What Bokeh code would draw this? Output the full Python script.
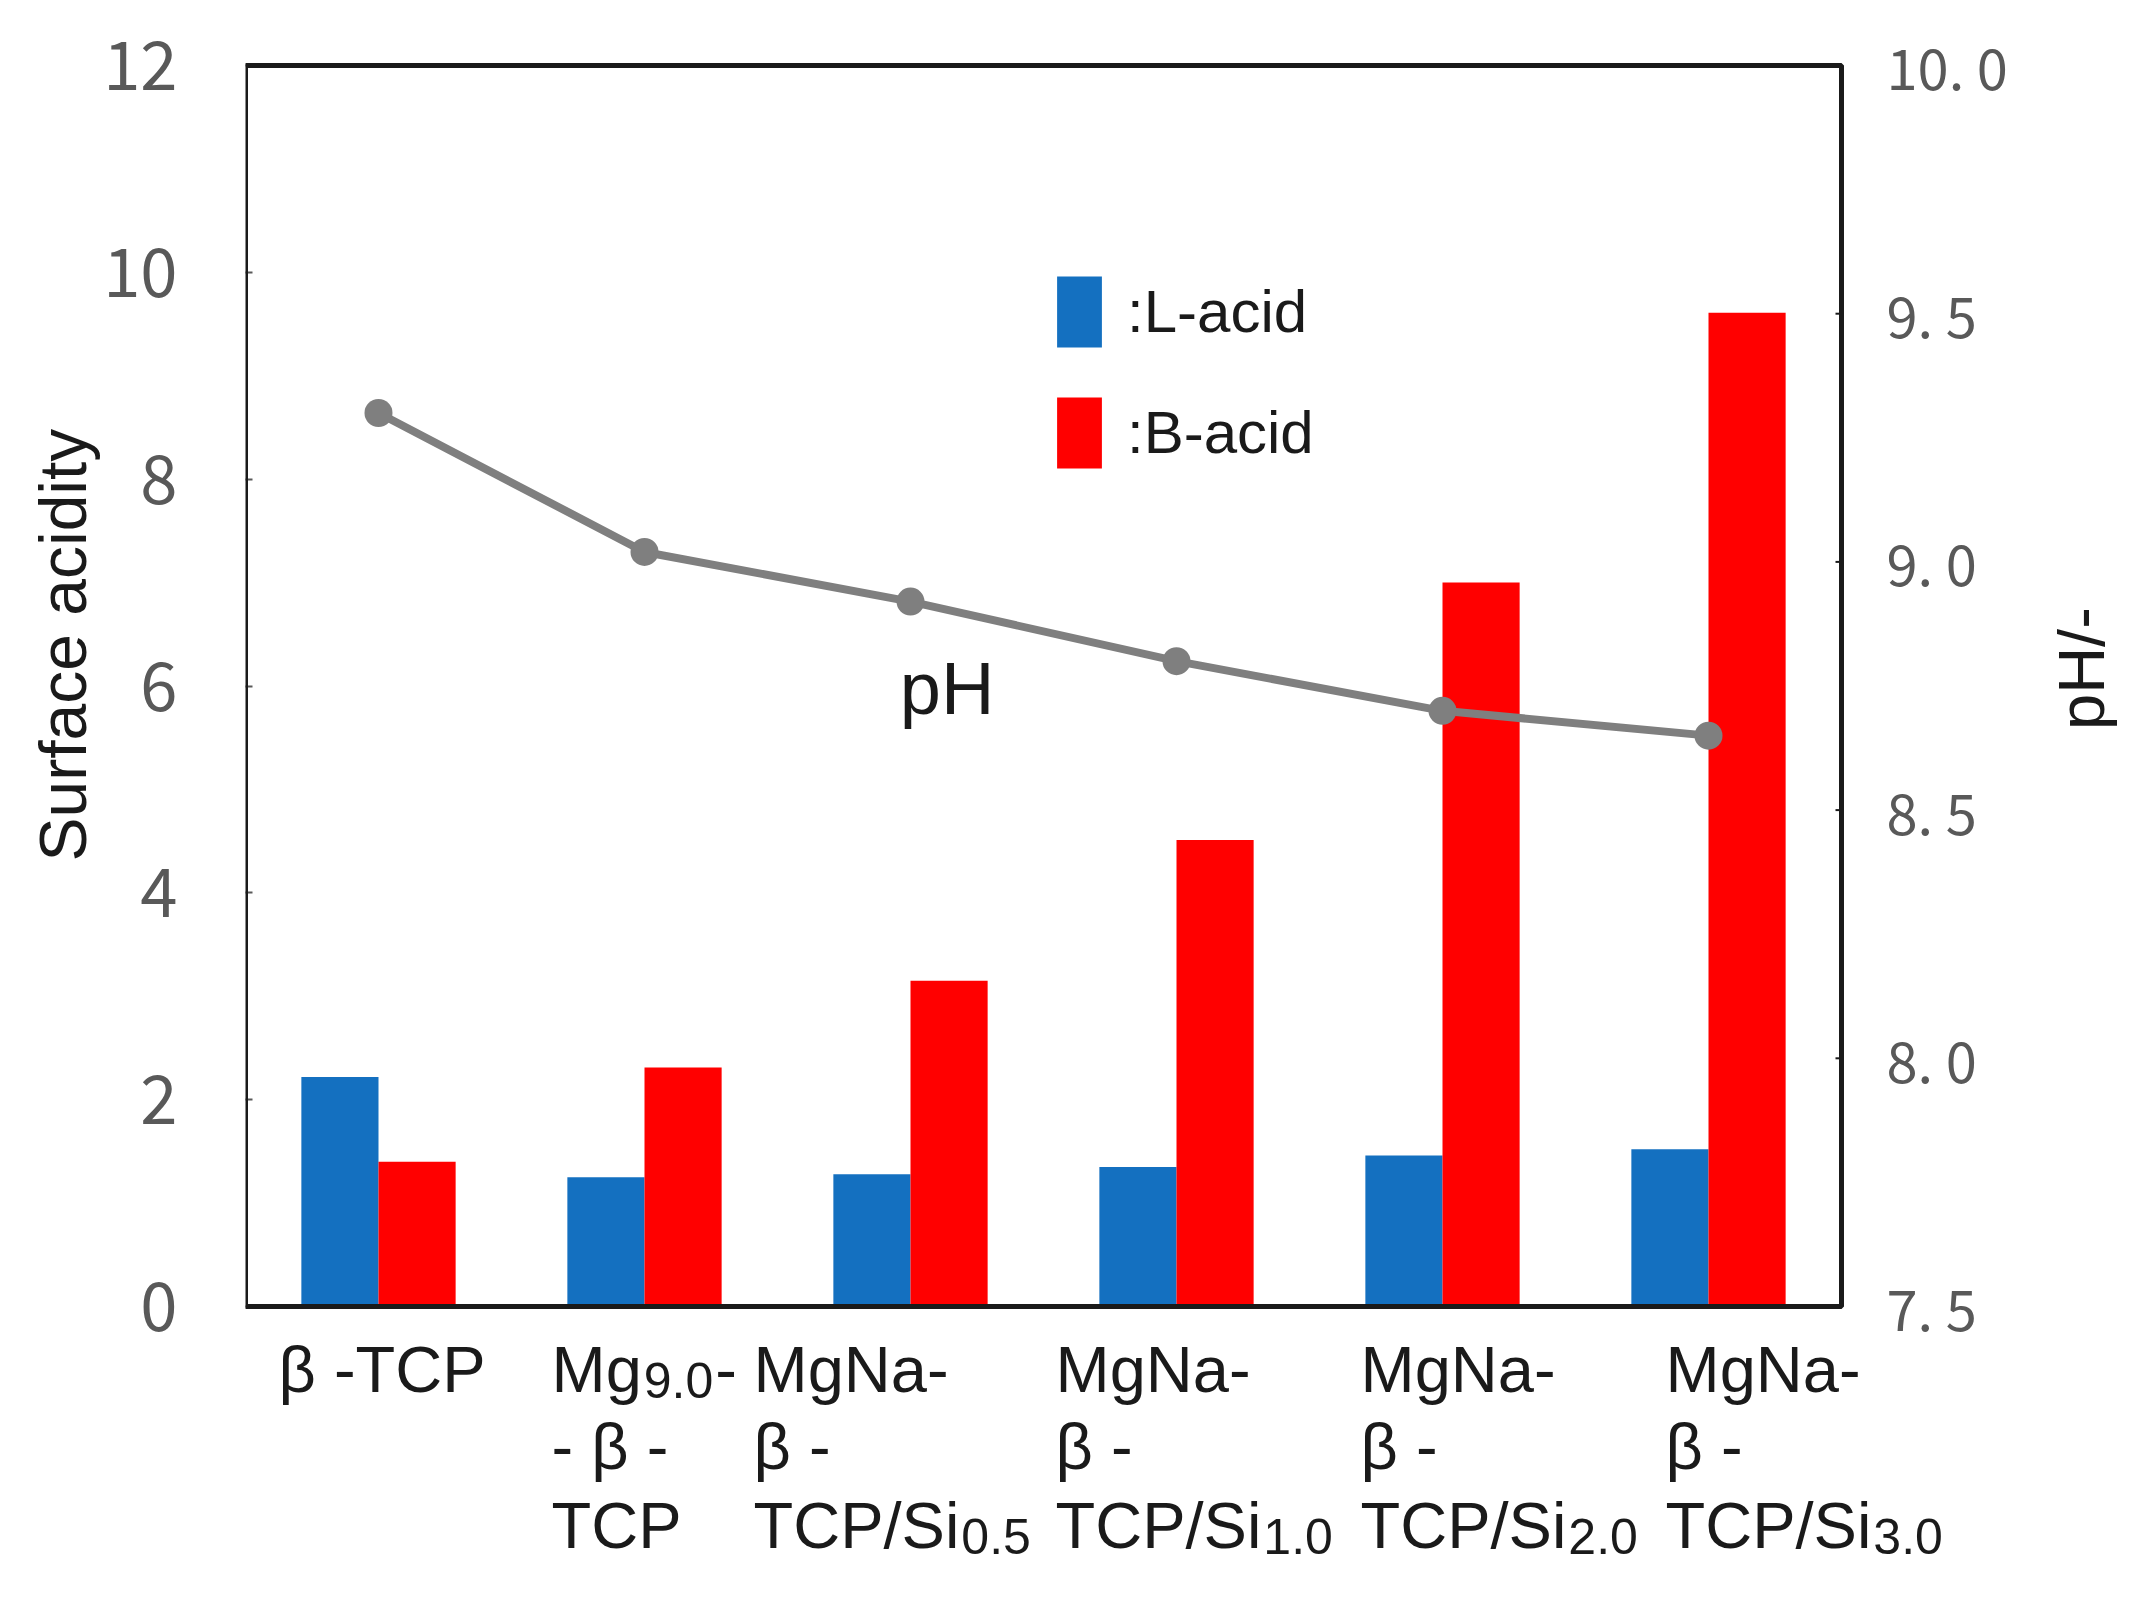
import math

from bokeh.core.properties import value
from bokeh.embed import file_html
from bokeh.models import (BoxAnnotation, ColumnDataSource, FixedTicker, Label,
                          Legend, LegendItem, Range1d, Title)
from bokeh.plotting import figure
from bokeh.resources import INLINE

# values
samples = ["β-TCP", "Mg9.0-β-TCP", "MgNa-β-TCP/Si0.5",
           "MgNa-β-TCP/Si1.0", "MgNa-β-TCP/Si2.0", "MgNa-β-TCP/Si3.0"]
l_acid = [2.22, 1.25, 1.28, 1.35, 1.46, 1.52]
b_acid = [1.40, 2.31, 3.15, 4.51, 7.00, 9.61]
ph = [9.30, 9.02, 8.92, 8.80, 8.70, 8.65]

left_ticks = [0, 2, 4, 6, 8, 10, 12]
right_ticks = [7.5, 8.0, 8.5, 9.0, 9.5, 10.0]
right_tick_labels = ["7. 5", "8. 0", "8. 5", "9. 0", "9. 5", "10. 0"]

# category labels, lines per sample: (text, subscript, tail)
label_lines = [
    [("β -TCP", "", "")],
    [("Mg", "9.0", "-"), ("- β -", "", ""), ("TCP", "", "")],
    [("MgNa-", "", ""), ("β -", "", ""), ("TCP/Si", "0.5", "")],
    [("MgNa-", "", ""), ("β -", "", ""), ("TCP/Si", "1.0", "")],
    [("MgNa-", "", ""), ("β -", "", ""), ("TCP/Si", "2.0", "")],
    [("MgNa-", "", ""), ("β -", "", ""), ("TCP/Si", "3.0", "")],
]

# layout in pixels
W, H = 2123, 1590
LEFT = 245
BOX_TOP = 65                  # canvas y of the value 12 line
BOX_W = 1596                  # width of the boxed plot area
BOX_BOTTOM = 1306             # canvas y of the value 0 line
label_dx = [-100, -93, -157, -121, -82, -43]   # left edge vs. group centre
line_y = [-63, -140, -219]                     # baselines below the box
FONT = "Liberation Sans"
TICKFONT = "Noto Sans CJK JP"
MAIN_PX, SUB_PX = 65, 50
em = {"M": 0.833, "g": 0.556, "T": 0.611, "C": 0.722, "P": 0.667,
      "/": 0.278, "S": 0.667, "i": 0.222, ".": 0.278}

n = len(samples)
px_x = BOX_W / n                               # px per category
px_y = (BOX_BOTTOM - BOX_TOP) / 12             # px per acidity unit
px_ph = (BOX_BOTTOM - BOX_TOP) / 2.5           # px per pH unit
below = H - BOX_BOTTOM

x = [i + 0.5 for i in range(n)]
bar_w = 0.29
src = ColumnDataSource(dict(
    x_l=[v - bar_w / 2 for v in x],
    x_b=[v + bar_w / 2 for v in x],
    x=x, l_acid=l_acid, b_acid=b_acid, ph=ph))

# the frame also holds the category labels and the pH scale around the box
p = figure(width=W, height=H, output_backend="svg",
           toolbar_location=None, x_axis_type=None,
           x_range=Range1d(0, (W - LEFT) / px_x),
           y_range=Range1d(-below / px_y, 12 + BOX_TOP / px_y),
           min_border_left=LEFT, min_border_right=0,
           min_border_top=0, min_border_bottom=0)
p.extra_y_ranges = {"ph": Range1d(7.5 - below / px_ph, 10 + BOX_TOP / px_ph)}
p.grid.visible = False
p.outline_line_color = None

p.add_layout(BoxAnnotation(left=0, right=n, bottom=0, top=12,
                           fill_alpha=0, line_color="#1a1a1a",
                           line_alpha=1, line_width=5))

r_l = p.vbar(x="x_l", top="l_acid", width=bar_w, source=src,
             fill_color="#1470c0", line_color=None)
r_b = p.vbar(x="x_b", top="b_acid", width=bar_w, source=src,
             fill_color="#ff0000", line_color=None)
p.line(x="x", y="ph", source=src, y_range_name="ph",
       line_color="#7f7f7f", line_width=8)
p.scatter(x="x", y="ph", source=src, y_range_name="ph", size=28,
          fill_color="#7f7f7f", line_color=None)

# left axis
ya = p.yaxis[0]
ya.ticker = FixedTicker(ticks=left_ticks)
ya.axis_line_color = None
ya.major_tick_in = 7
ya.major_tick_out = 0
ya.minor_tick_line_color = None
ya.major_tick_line_color = "#595959"
ya.major_tick_line_width = 2
ya.major_label_text_font = TICKFONT
ya.major_label_text_font_size = "67px"
ya.major_label_text_color = "#595959"
ya.major_label_standoff = 68

p.add_layout(Title(text="Surface acidity", align="left", offset=445 + below,
                   vertical_align="middle", text_font=FONT,
                   text_font_style="normal", text_font_size="66px",
                   text_color="#1a1a1a", standoff=0), "left")

# pH scale on the right edge of the box
rsrc = ColumnDataSource(dict(x=[n] * len(right_ticks), y=right_ticks,
                             text=right_tick_labels))
p.ray(x="x", y="y", source=rsrc, y_range_name="ph", length=6,
      length_units="screen", angle=math.pi, line_color="#1a1a1a", line_width=2)
p.text(x="x", y="y", text="text", source=rsrc, y_range_name="ph",
       x_offset=45, text_font=value(TICKFONT), text_font_size="56px",
       text_baseline="middle", text_align="left", text_color="#595959")
p.add_layout(Label(x=n, y=8.785, y_range_name="ph", x_offset=240,
                   text="pH/-", angle=math.pi / 2, text_align="center",
                   text_baseline="middle", text_font=FONT,
                   text_font_size="65px", text_color="#1a1a1a"))

# "pH" note next to the line
p.add_layout(Label(x=2.46, y=5.98, text="pH", text_font=FONT,
                   text_baseline="alphabetic",
                   text_font_size="74px", text_color="#1a1a1a"))

legend = Legend(items=[LegendItem(label=":L-acid", renderers=[r_l]),
                       LegendItem(label=":B-acid", renderers=[r_b])],
                location=(806, 829 + below), glyph_width=56, glyph_height=89,
                spacing=32, label_standoff=20, padding=0, margin=0,
                border_line_color=None, background_fill_alpha=0,
                label_text_font=FONT, label_text_font_size="60px",
                label_text_color="#1a1a1a")
p.add_layout(legend)

# category labels under the box, with subscripts
main = dict(x=[], y=[], text=[], dx=[])
subs = dict(x=[], y=[], text=[], dx=[])
for i, lines in enumerate(label_lines):
    for j, (txt, sub, tail) in enumerate(lines):
        main["x"].append(x[i])
        main["y"].append(line_y[j] / px_y)
        main["text"].append(txt)
        main["dx"].append(label_dx[i])
        if sub:
            sx = label_dx[i] + sum(em.get(c, 0.6) for c in txt) * MAIN_PX + 2
            subs["x"].append(x[i])
            subs["y"].append((line_y[j] - 11) / px_y)
            subs["text"].append(sub)
            subs["dx"].append(sx)
            if tail:
                main["x"].append(x[i])
                main["y"].append(line_y[j] / px_y)
                main["text"].append(tail)
                main["dx"].append(sx + sum(em.get(c, 0.556) for c in sub) * SUB_PX + 2)

p.text(x="x", y="y", text="text", x_offset="dx", source=ColumnDataSource(main),
       text_font=value(FONT), text_font_size=f"{MAIN_PX}px",
       text_baseline="alphabetic", text_color="#1a1a1a")
p.text(x="x", y="y", text="text", x_offset="dx", source=ColumnDataSource(subs),
       text_font=value(FONT), text_font_size=f"{SUB_PX}px",
       text_baseline="alphabetic", text_color="#1a1a1a")

open("out.html", "w").write(file_html(p, INLINE))
